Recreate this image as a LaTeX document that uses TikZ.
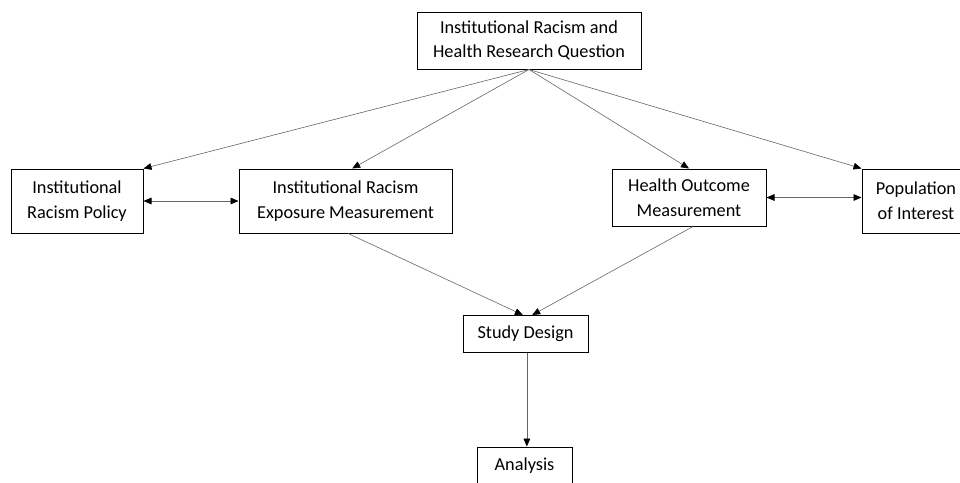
\documentclass[tikz,border=0pt]{standalone}
\usepackage{fontspec}
\setmainfont{Carlito}
\usetikzlibrary{arrows.meta}

\tikzset{every picture/.style={line width=0.75pt}}
\tikzset{
	box/.style={draw=black, line width=0.75pt, align=center, inner sep=0.75pt, font=\fontsize{13.7}{18.5}\selectfont},
	link/.style={draw=black!60, line width=0.45pt, -{Triangle[length=6pt,width=5pt,color=black]}},
	both/.style={link, {Triangle[length=6pt,width=5pt,color=black]}-{Triangle[length=6pt,width=5pt,color=black]}}
}

\begin{document}
\begin{tikzpicture}[x=0.75pt,y=0.75pt,yscale=-1,xscale=1]
	\clip (0,0) rectangle (960,482);
	
	% Text Node
	\node [box, minimum width=168pt, minimum height=42.75pt] (question) at (529,40.5) {Institutional Racism and\\Health Research Question};
	% Text Node
	\node [box, minimum width=99pt, minimum height=48pt] (policy) at (77,201) {Institutional\\Racism Policy};
	% Text Node
	\node [box, minimum width=159.75pt, minimum height=48pt] (exposure) at (345.5,201) {Institutional Racism\\Exposure Measurement};
	% Text Node
	\node [box, minimum width=115.5pt, minimum height=42.75pt] (outcome) at (689,197.5) {Health Outcome\\Measurement};
	% Text Node
	\node [box, minimum width=81pt, minimum height=48pt] (population) at (916,201) {Population\\of Interest};
	% Text Node
	\node [box, minimum width=93.75pt, minimum height=27.75pt] (design) at (525.5,334) {Study Design};
	% Text Node
	\node [box, minimum width=71.25pt, minimum height=27.75pt] (analysis) at (524.5,465.5) {Analysis};
	
	%Straight Lines
	\draw [link] (question.south) -- (policy.north east);
	\draw [link] (question.south) -- ([xshift=5pt]exposure.north);
	\draw [link] (question.south) -- (outcome.north);
	\draw [link] (question.south) -- (population.north west);
	%Straight Lines
	\draw [both] (policy.east) -- (exposure.west);
	\draw [both] (outcome.east) -- (outcome.east -| population.west);
	%Straight Lines
	\draw [link] ([xshift=2pt]exposure.south) -- ([xshift=-2pt]design.north);
	\draw [link] ([xshift=3pt]outcome.south) -- ([xshift=5pt]design.north);
	\draw [link] ([xshift=1pt]design.south) -- ([xshift=1pt]design.south |- analysis.north);
	
\end{tikzpicture}
\end{document}
